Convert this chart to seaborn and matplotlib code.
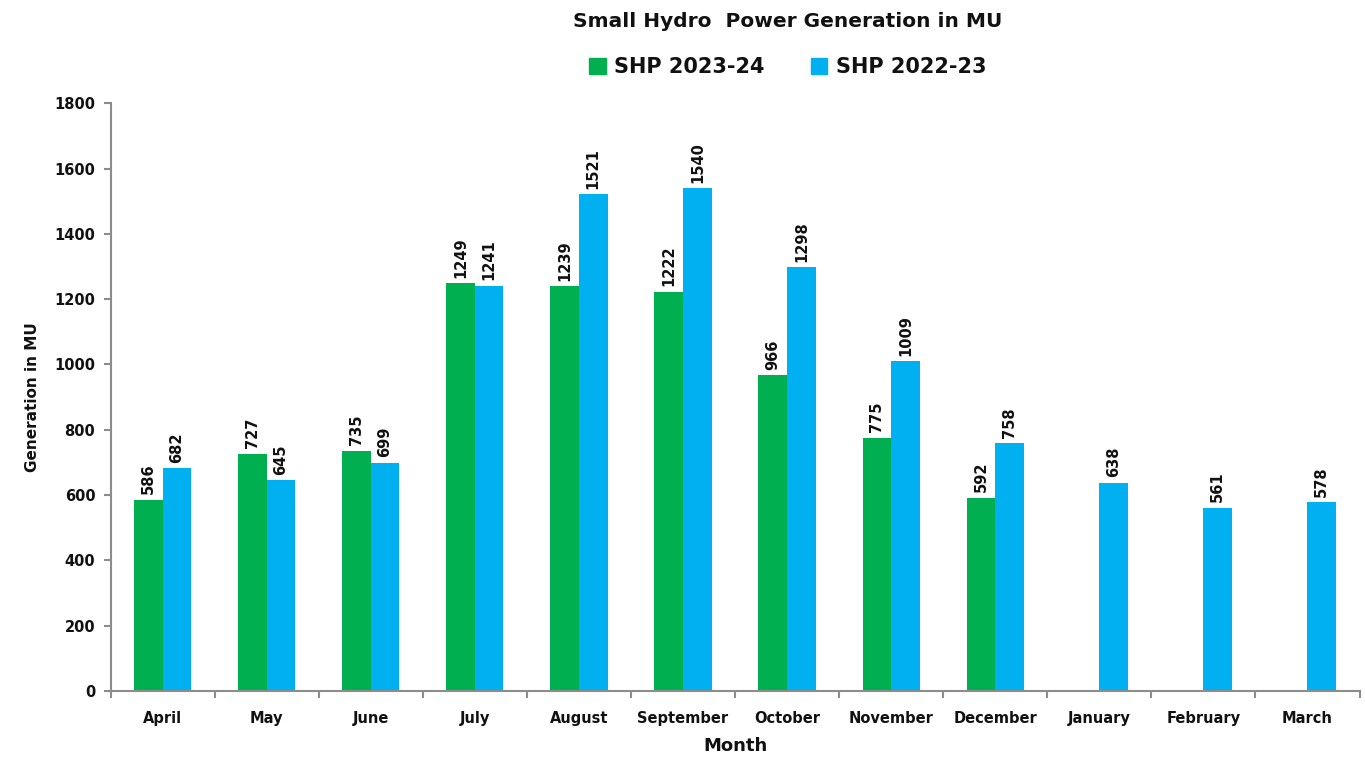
import matplotlib
matplotlib.use("Agg")
import matplotlib.pyplot as plt
import numpy as np
import pandas as pd
import seaborn as sns

months = ["April", "May", "June", "July", "August", "September", "October",
          "November", "December", "January", "February", "March"]
shp_2023_24 = [586, 727, 735, 1249, 1239, 1222, 966, 775, 592, np.nan, np.nan, np.nan]
shp_2022_23 = [682, 645, 699, 1241, 1521, 1540, 1298, 1009, 758, 638, 561, 578]
series = ["SHP 2023-24", "SHP 2022-23"]
colors = ["#00B050", "#00B0F0"]

df = pd.DataFrame({
    "Month": months * 2,
    "Value": shp_2023_24 + shp_2022_23,
    "Series": [series[0]] * len(months) + [series[1]] * len(months),
})

sns.set_style("white")
plt.rcParams["font.family"] = ["DejaVu Sans"]
plt.rcParams["font.weight"] = "bold"
plt.rcParams["text.color"] = "#111111"

fig = plt.figure(figsize=(13.65, 7.65), dpi=100)
ax = fig.add_axes([0.081, 0.097, 0.915, 0.768])

sns.barplot(data=df, x="Month", y="Value", hue="Series", order=months,
            hue_order=series, palette=colors, width=0.55, saturation=1,
            linewidth=0, ax=ax, legend=False)

for cont in ax.containers:
    labels = ["" if np.isnan(v) else f"{int(v)}" for v in cont.datavalues]
    ax.bar_label(cont, labels=labels, rotation=90, padding=4,
                 fontsize=10.5, fontweight="bold", color="#111111")

ax.set_ylim(0, 1800)
ax.set_yticks(range(0, 1801, 200))
ax.set_xlim(-0.5, len(months) - 0.5)
ax.set_xticks(np.arange(-0.5, len(months), 1), minor=True)
ax.tick_params(axis="x", which="major", bottom=False, labelsize=10.5, pad=11,
               labelcolor="#111111")
ax.tick_params(axis="x", which="minor", bottom=True, length=5, width=1.5,
               color="#8c8c8c", direction="out")
ax.tick_params(axis="y", left=True, length=5, width=1.5, color="#8c8c8c",
               direction="out", labelsize=10.5, pad=6, labelcolor="#111111")
for lab in ax.get_xticklabels() + ax.get_yticklabels():
    lab.set_fontweight("bold")

sns.despine(ax=ax)
for s in ["left", "bottom"]:
    ax.spines[s].set_color("#8c8c8c")
    ax.spines[s].set_linewidth(1.5)

ax.set_xlabel("Month", fontsize=13, fontweight="bold", labelpad=8, color="#111111")
ax.set_ylabel("Generation in MU", fontsize=11, fontweight="bold", labelpad=10,
              color="#111111")

fig.text(0.577, 0.972, "Small Hydro  Power Generation in MU", ha="center",
         va="center", fontsize=14.5, fontweight="bold")

handles = [plt.Rectangle((0, 0), 1, 1, color=c) for c in colors]
fig.legend(handles, series, loc="center", bbox_to_anchor=(0.577, 0.912),
           ncol=2, frameon=False, handlelength=0.8, handleheight=0.8,
           columnspacing=2.2, handletextpad=0.4,
           prop={"weight": "bold", "size": 15})

fig.savefig("out.png", dpi=100)
